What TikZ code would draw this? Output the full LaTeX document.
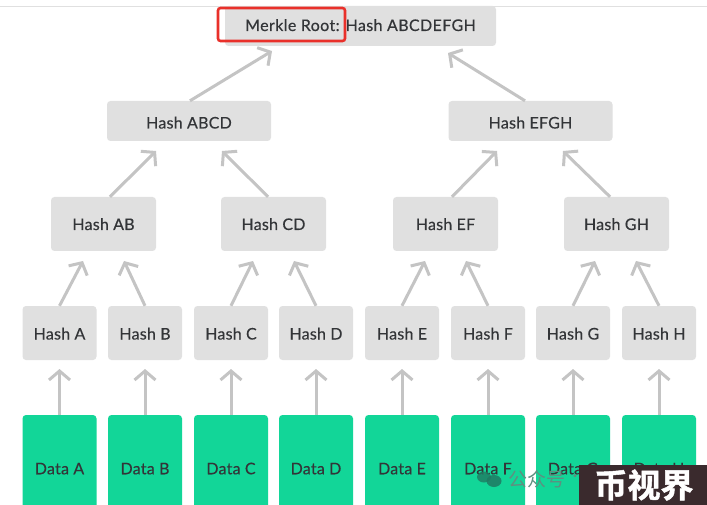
\documentclass[tikz,border=0pt]{standalone}
\usepackage{fontspec}
\setmainfont{Lato}
\newfontfamily\cjkfont{Noto Sans CJK SC}
\newfontfamily\cjkbold[FakeBold=1.5]{Noto Sans CJK SC Bold}
\usetikzlibrary{arrows.meta,calc}
\definecolor{boxgray}{HTML}{E0E0E0}
\definecolor{arrowgray}{HTML}{C4C4C4}
\definecolor{datagreen}{HTML}{12D698}
\definecolor{txt}{HTML}{333538}
\definecolor{markred}{HTML}{E9302A}
\definecolor{markdark}{HTML}{3A2A2D}
\definecolor{wmgray}{HTML}{5F8F80}
\definecolor{wmgreen}{HTML}{1F7A62}
\tikzset{
  x=1pt,y=-1pt,
  box/.style={rounded corners=3.5pt,inner sep=0pt,text=txt,font=\fontsize{16}{18}\selectfont\addfontfeature{LetterSpace=1.5,FakeBold=0.35}},
  hashbox/.style={box,fill=boxgray,text height=13pt,text depth=0pt},
  leafbox/.style={hashbox,minimum width=74pt,minimum height=54pt},
  midbox/.style={hashbox,minimum width=105pt,minimum height=54pt,text height=12pt},
  topbox/.style={hashbox,minimum width=164pt,minimum height=40pt,text height=15pt},
  rootbox/.style={hashbox,minimum width=271pt,minimum height=40pt,text height=10pt,font=\fontsize{16}{18}\selectfont\addfontfeature{LetterSpace=2.4,FakeBold=0.35}},
  databox/.style={box,fill=datagreen,minimum width=74pt,minimum height=106pt,text height=12.5pt,text depth=0pt},
  link/.style={draw=arrowgray,line width=3pt,-{Straight Barb[length=9pt,width=21pt,line width=3pt]}},
}
\begin{document}
\begin{tikzpicture}
\useasboundingbox (0,0) rectangle (707,505);
\clip (0,0) rectangle (707,505);
\fill[white] (0,0) rectangle (707,505);
\draw[draw=black!12,line width=0.8pt] (0,6) -- (707,6);

% root and upper levels
\node[rootbox] (root) at (360.5,26) {Merkle Root: Hash ABCDEFGH};
\node[topbox] (abcd) at (189,121) {Hash ABCD};
\node[topbox] (efgh) at (530.5,121) {Hash EFGH};
\node[midbox] (ab) at (103.5,224) {Hash AB};
\node[midbox] (cd) at (273.5,224) {Hash CD};
\node[midbox] (ef) at (445.5,224) {Hash EF};
\node[midbox] (gh) at (616.5,224) {Hash GH};

% leaves
\foreach \n/\lab/\cx in {a/A/59.5,b/B/145,c/C/231,d/D/316,e/E/402,f/F/488,g/G/573,h/H/659}{
  \node[leafbox] (h\n) at (\cx,333) {Hash \lab};
  \node[databox] (d\n) at (\cx,468) {Data \lab};
  \coordinate (t\n) at (\cx,369);
  \draw[link] (d\n.north) -- (t\n);
}

% arrow tips
\coordinate (tabcdroot) at (272,51);
\coordinate (tefghroot) at (448,53);
\coordinate (tab) at (156,151);
\coordinate (tcd) at (222,151);
\coordinate (tef) at (497,151);
\coordinate (tgh) at (563,151);
\coordinate (taa) at (83,261);
\coordinate (tab2) at (124,261);
\coordinate (tca) at (253,261);
\coordinate (tcb) at (294,261);
\coordinate (tea) at (425,261);
\coordinate (teb) at (466,261);
\coordinate (tga) at (595,261);
\coordinate (tgb) at (636,261);

\draw[link] ([xshift=1pt]abcd.north) -- (tabcdroot);
\draw[link] ([xshift=-5.5pt]efgh.north) -- (tefghroot);
\draw[link] ([xshift=6.5pt]ab.north) -- (tab);
\draw[link] ([xshift=-5.5pt]cd.north) -- (tcd);
\draw[link] ([xshift=6.5pt]ef.north) -- (tef);
\draw[link] ([xshift=-6.5pt]gh.north) -- (tgh);
\draw[link] (ha.north) -- (taa);
\draw[link] (hb.north) -- (tab2);
\draw[link] (hc.north) -- (tca);
\draw[link] (hd.north) -- (tcb);
\draw[link] (he.north) -- (tea);
\draw[link] (hf.north) -- (teb);
\draw[link] (hg.north) -- (tga);
\draw[link] (hh.north) -- (tgb);

% red highlight
\node[draw=markred,line width=2.6pt,rounded corners=2.5pt,minimum width=127pt,minimum height=33pt,inner sep=0pt] (mark) at (281.5,24.5) {};

% watermark
\fill[wmgreen,opacity=.8] (484,477) ellipse (7pt and 5.5pt);
\fill[wmgreen,opacity=.85] (494,481) ellipse (7.5pt and 6pt);
\node[inner sep=0pt,anchor=west,text=wmgray,font=\cjkfont\fontsize{19}{21}\selectfont] (wm) at (508,479) {公众号};
\node[inner sep=0pt,text=wmgray,font=\cjkfont\fontsize{14}{16}\selectfont] (wmdot) at (575,478) {·};
\fill[markdark] (579,465) rectangle (707,505);
\node[inner sep=0pt,text=white,font=\cjkbold\fontsize{33}{36}\selectfont] (brand) at (644,485) {币视界};
\end{tikzpicture}
\end{document}
